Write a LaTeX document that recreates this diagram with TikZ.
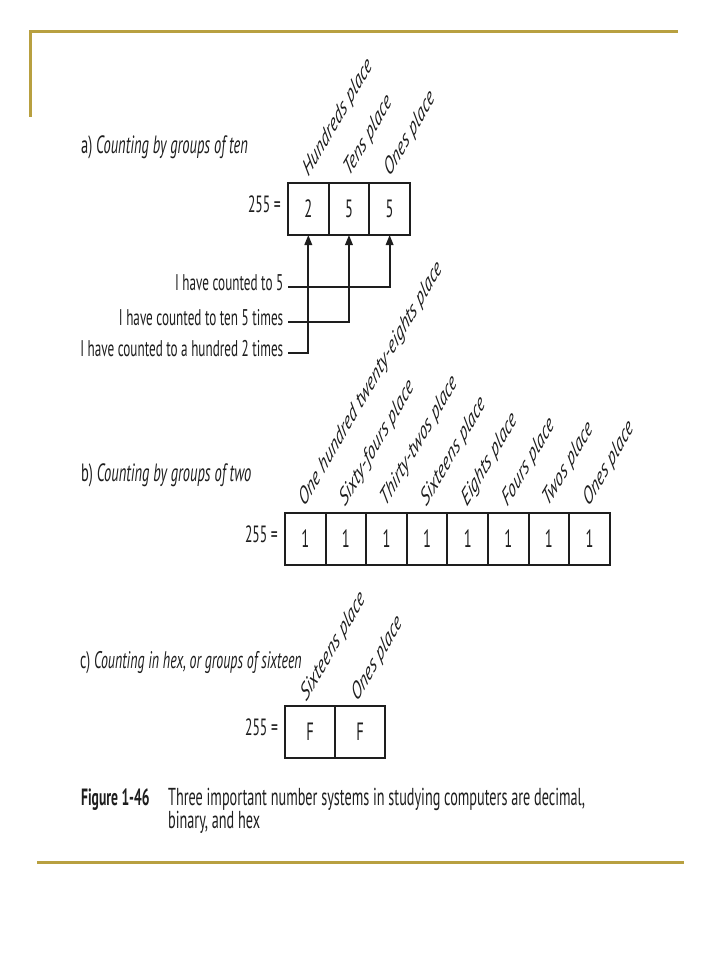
\documentclass[tikz,border=0pt]{standalone}
\usepackage{fontspec}
\setmainfont{PT Sans}
\usetikzlibrary{arrows.meta,positioning,calc}
\definecolor{Gold}{HTML}{B8A040}
\definecolor{Ink}{HTML}{1E1E1E}

\tikzset{
  rule/.style={Gold,line width=3pt},
  squeeze/.style={xscale=0.58,inner sep=0pt,text=Ink},
  title/.style={squeeze,anchor=base west,font=\fontsize{25}{29}\selectfont},
  caption/.style={squeeze,anchor=base west,font=\fontsize{24.5}{28}\selectfont},
  note/.style={squeeze,anchor=east,inner xsep=8pt,font=\fontsize{22.7}{26}\selectfont,text height=0.7em,text depth=0pt},
  lead/.style={squeeze,font=\fontsize{23.5}{27}\selectfont,text height=0.7em,text depth=0pt},
  place/.style={squeeze,rotate=45,anchor=base west,font=\fontsize{25}{29}\selectfont\itshape},
  cell/.style={draw=Ink,line width=1.8pt,xscale=0.58,outer sep=0pt,inner sep=0pt,
    minimum width=70.1pt,minimum height=52pt,font=\fontsize{25}{29}\selectfont,text=Ink},
  hexcell/.style={cell,minimum width=86.2pt},
  feed/.style={draw=Ink,line width=1.8pt,-{Triangle[length=10pt,width=7.5pt]}},
}

\begin{document}
\begin{tikzpicture}[x=1pt,y=-1pt]
  \useasboundingbox (0,0) rectangle (720,960);
  % frame
  \draw[rule] (30,117) -- (30,32) -- (678,32);
  \draw[rule] (37,862) -- (684,862);

  % a) decimal
  \node[title] (ta) at (81,154) {a) \textit{Counting by groups of ten}};
  \node[cell] (a1) at (308.3,209) {2};
  \node[cell,right=0pt of a1] (a2) {5};
  \node[cell,right=0pt of a2] (a3) {5};
  \node[lead,left=7pt of a1] (ea) {255 =};
  \foreach \name [count=\i] in {Hundreds place,Tens place,Ones place}
    \node[place] (pa\i) at ($(a\i.north)+(0,-5)$) {\name};
  \node[note] (n1) at (288,287) {I have counted to 5};
  \node[note] (n2) at (288,322) {I have counted to ten 5 times};
  \node[note] (n3) at (288,353) {I have counted to a hundred 2 times};
  \draw[feed] (n1.east) -| (a3.south);
  \draw[feed] (n2.east) -| (a2.south);
  \draw[feed] (n3.east) -| (a1.south);

  % b) binary
  \node[title] (tb) at (81,481) {b) \textit{Counting by groups of two}};
  \foreach \i in {1,...,8}
    \node[cell] (b\i) at (264.7+40.6*\i,539) {1};
  \node[lead,left=7pt of b1] (eb) {255 =};
  \foreach \name [count=\i] in {One hundred twenty-eights place,Sixty-fours place,
      Thirty-twos place,Sixteens place,Eights place,Fours place,Twos place,Ones place}
    \node[place] (pb\i) at ($(b\i.north)+(-1,-5)$) {\name};

  % c) hex
  \node[title,font=\fontsize{24}{28}\selectfont] (tc) at (80,668) {c) \textit{Counting in hex, or groups of sixteen}};
  \node[hexcell] (c1) at (310,732) {F};
  \node[hexcell,right=0pt of c1] (c2) {F};
  \node[lead,left=7pt of c1] (ec) {255 =};
  \node[place] (pc1) at ($(c1.north)+(-4,-3)$) {Sixteens place};
  \node[place] (pc2) at ($(c2.north)+(-3,-3)$) {Ones place};

  % caption
  \node[caption,font=\fontsize{23.5}{27}\selectfont\bfseries] (fig) at (81,805) {Figure 1-46};
  \node[caption] (cap1) at (168,805) {Three important number systems in studying computers are decimal,};
  \node[caption] (cap2) at ($(cap1.base west)+(0,23)$) {binary, and hex};
\end{tikzpicture}
\end{document}
